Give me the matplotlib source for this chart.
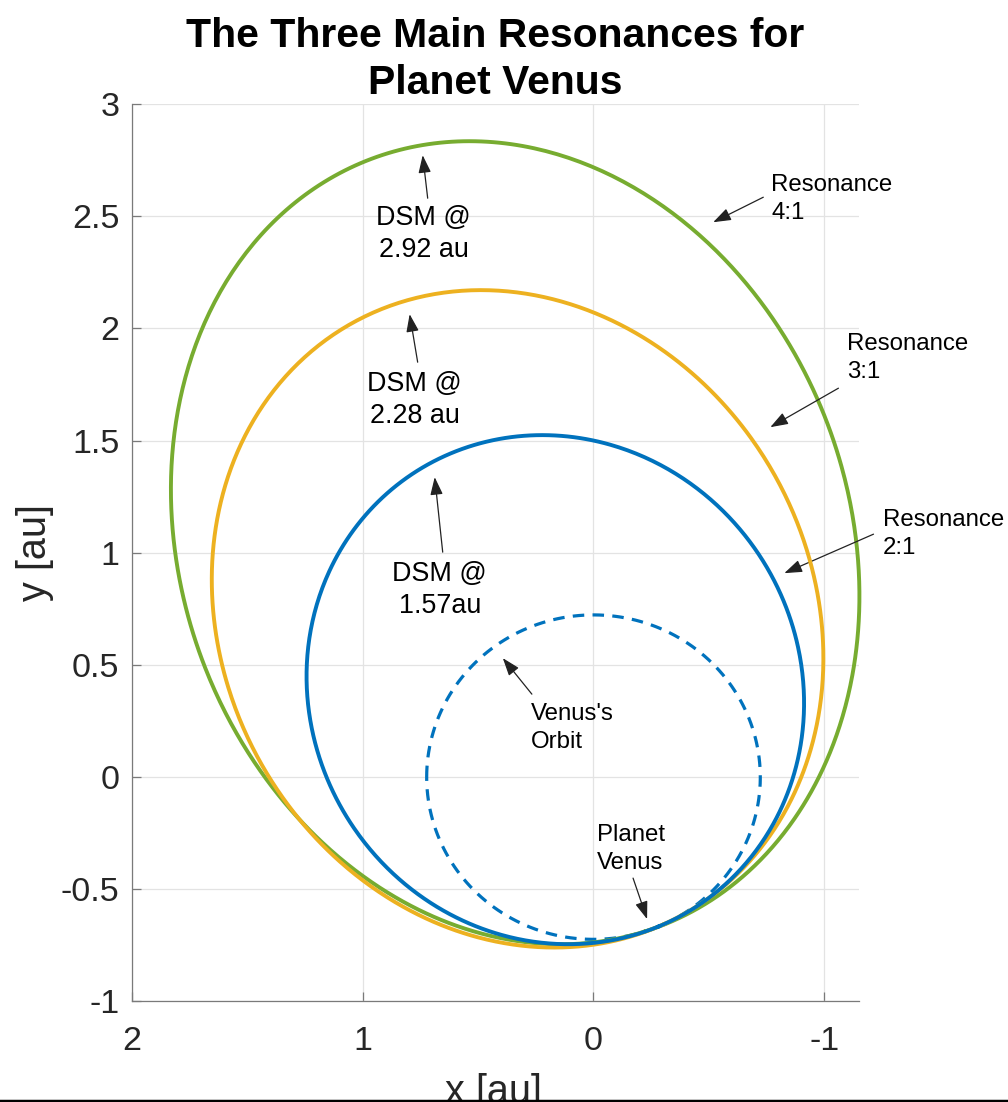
#!/usr/bin/env python3

import numpy as np
import matplotlib.pyplot as plt
from matplotlib.lines import Line2D

# Venus orbit radius [au]
venus_r = 0.723

# resonances (n:1) and aphelion distance of each orbit (DSM point) [au]
resonances = ["2:1", "3:1", "4:1"]
dsm_dist = [1.57, 2.28, 2.92]
dsm_text = ["1.57au", "2.28 au", "2.92 au"]
# argument of perihelion of each orbit [deg]
peri_angle = [247.0, 245.0, 252.0]
colors = ["#0072BD", "#EDB120", "#77AC30"]

xticks = [2, 1, 0, -1]
yticks = [-1, -0.5, 0, 0.5, 1, 1.5, 2, 2.5, 3]

plt.rcParams['font.family'] = ['Liberation Sans', 'DejaVu Sans']


def orbit(q, Q, w_deg, n=720):
    a = (q + Q) / 2
    e = (Q - q) / (Q + q)
    nu = np.linspace(0, 2 * np.pi, n)
    r = a * (1 - e**2) / (1 + e * np.cos(nu))
    w = np.radians(w_deg)
    return r * np.cos(nu + w), r * np.sin(nu + w)


def main():
    fig = plt.figure(figsize=(10.08, 11.02), dpi=100)
    ax = fig.add_axes([0.131, 0.0912, 0.721, 0.8144])

    # green first, blue on top
    for i in [2, 1, 0]:
        x, y = orbit(venus_r, dsm_dist[i], peri_angle[i])
        ax.plot(x, y, color=colors[i], lw=2.8, zorder=3 + (2 - i), clip_on=False)

    th = np.linspace(0, 2 * np.pi, 400)
    ax.plot(venus_r * np.cos(th), venus_r * np.sin(th), color=colors[0],
            lw=2.3, linestyle=(0, (3.6, 2.6)), zorder=2)

    ax.set_xlim(2, -1.15)
    ax.set_ylim(-1, 3)
    ax.set_xticks(xticks)
    ax.set_yticks(yticks)
    ax.set_xticklabels([f"{v:g}" for v in xticks])
    ax.set_yticklabels([f"{v:g}" for v in yticks])
    ax.grid(True, color='#e3e3e3', lw=0.9)
    ax.set_axisbelow(True)
    for s in ['top', 'right']:
        ax.spines[s].set_visible(False)
    for s in ['left', 'bottom']:
        ax.spines[s].set_color('#7a7a7a')
        ax.spines[s].set_linewidth(0.9)
    ax.tick_params(direction='in', length=6.5, width=0.9, color='#7a7a7a',
                   labelsize=24.5, labelcolor='#262626')
    ax.tick_params(axis='x', pad=18)
    ax.tick_params(axis='y', pad=9)

    ax.set_xlabel("x [au]", fontsize=28.5, color='#262626')
    ax.xaxis.set_label_coords(0.497, -0.080)
    ax.set_ylabel("y [au]", fontsize=28.5, color='#262626')
    ax.yaxis.set_label_coords(-0.108, 0.5)

    ax.set_title("The Three Main Resonances for\nPlanet Venus", fontsize=29.4,
                 fontweight='bold', linespacing=1.3, pad=7)

    arrow = dict(arrowstyle='-|>,head_length=0.9,head_width=0.32',
                 color='#222222', lw=0.9, mutation_scale=12, shrinkA=0, shrinkB=0)

    # pixel -> data helper for label placement
    def px(xp, yp):
        return ((593.5 - xp) / 230.3, (777.0 - yp) / 224.4)

    big = 19.4
    small = 17.3

    # DSM labels: text centre, arrow tail, arrow head (blue, orange, green)
    dsm_pos = [(440, 590), (415, 400), (424, 234)]
    dsm_tail = [(443, 552), (418, 362), (428, 198)]
    dsm_head = [(435, 477), (410, 314), (423, 155)]
    for i in range(3):
        ax.annotate("DSM @\n" + dsm_text[i], xy=px(*dsm_pos[i]),
                    ha='center', va='center', fontsize=big, linespacing=1.3)
        ax.annotate("", xy=px(*dsm_head[i]), xytext=px(*dsm_tail[i]),
                    arrowprops=arrow)

    ax.annotate("Venus's\nOrbit", xy=px(531, 728),
                ha='left', va='center', fontsize=small, linespacing=1.35)
    ax.annotate("", xy=px(503, 658), xytext=px(532, 694), arrowprops=arrow)

    ax.annotate("Planet\nVenus", xy=px(597, 849),
                ha='left', va='center', fontsize=small, linespacing=1.35)
    ax.annotate("", xy=px(647, 919), xytext=px(633, 878), arrowprops=arrow)

    res_text = [(882, 534), (847, 358), (771, 199)]
    res_tail = [(873, 534), (838, 388), (763, 197)]
    res_head = [(784, 573), (770, 427), (713, 222)]
    for i in range(3):
        ax.annotate("Resonance\n" + resonances[i], xy=px(*res_text[i]),
                    ha='left', va='center', fontsize=small, linespacing=1.35,
                    annotation_clip=False)
        ax.annotate("", xy=px(*res_head[i]), xytext=px(*res_tail[i]),
                    arrowprops=arrow, annotation_clip=False)

    fig.add_artist(Line2D([0, 1], [0.001, 0.001], transform=fig.transFigure,
                          color='black', lw=2.5))

    fig.savefig("out.png", dpi=100)


if __name__ == "__main__":
    main()
